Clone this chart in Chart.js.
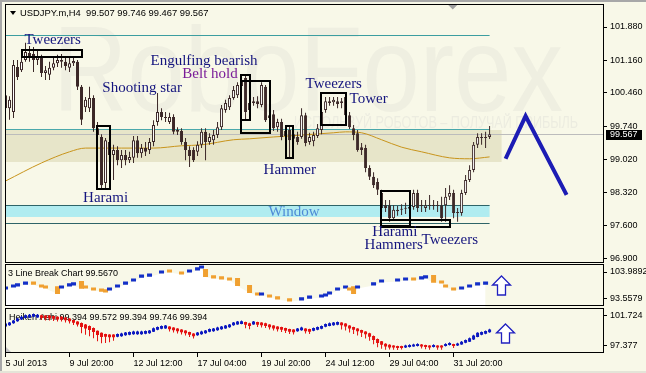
<!DOCTYPE html>
<html lang="en">
<head>
<meta charset="utf-8">
<script src="https://cdn.jsdelivr.net/npm/chart.js@4.4.0/dist/chart.umd.min.js"></script>
<title>USDJPY H4 candlestick patterns</title>
<style>
  html, body { margin: 0; padding: 0; background: #f8f8e8; }
</style>
</head>
<body>
<canvas id="myChart" width="646" height="373"></canvas>
<script>
    const FONT = "'Liberation Sans', Arial, sans-serif";
    const SERIF = "'Liberation Serif', 'Times New Roman', serif";

    // USDJPY.m H4 candles (bar index 0 = 5 Jul 2013)
    const candleOpen = [100.41,100.13,100.05,101.02,100.95,101.17,101.32,101.30,101.17,101.21,
        100.89,100.85,101.00,101.10,101.17,101.13,101.00,101.10,101.13,100.59,
        100.15,100.13,100.35,99.70,99.51,98.52,99.40,99.12,99.23,99.01,
        99.12,99.01,99.06,99.44,99.16,99.27,99.23,99.40,99.83,100.05,
        99.94,99.83,99.94,99.62,99.64,99.40,99.23,99.23,99.19,99.34,
        99.62,99.40,99.44,99.55,99.72,100.09,100.15,100.35,100.41,100.61,
        100.78,100.09,100.24,100.28,100.20,100.59,99.92,100.00,99.72,99.83,
        99.53,99.66,99.47,99.51,99.51,99.98,99.40,99.42,99.53,99.66,
        100.09,100.28,100.26,100.28,100.28,100.37,99.98,99.70,99.59,99.29,
        99.27,98.84,98.65,98.54,98.30,98.04,98.04,97.76,97.94,97.96,
        97.98,97.96,98.00,98.30,98.02,97.98,98.04,98.02,98.04,98.04,
        98.04,98.22,98.30,97.87,97.87,98.30,98.58,98.80,99.34,99.49,
        99.51,99.507];
    const candleHigh = [100.57,100.39,101.17,101.17,101.21,101.54,101.47,101.45,101.38,101.28,
        101.04,101.13,101.21,101.28,101.30,101.23,101.23,101.25,101.17,100.63,
        100.37,100.59,100.41,99.83,99.57,99.49,99.44,99.34,99.31,99.23,
        99.23,99.19,99.53,99.53,99.36,99.40,99.49,99.87,100.46,100.13,
        100.05,100.03,100.00,99.72,99.70,99.49,99.31,99.29,99.42,99.70,
        99.70,99.59,99.66,99.83,100.20,100.31,100.41,100.61,100.69,100.80,
        100.84,100.35,100.37,100.39,100.69,100.63,100.05,100.09,99.90,99.90,
        99.72,99.75,99.66,99.62,100.13,100.03,99.60,99.62,99.79,100.13,
        100.37,100.37,100.37,100.37,100.35,100.41,100.05,99.77,99.66,99.38,
        99.34,98.90,98.75,98.62,98.37,98.15,98.15,98.04,98.02,98.06,
        98.09,98.15,98.37,98.37,98.15,98.15,98.26,98.15,98.13,98.22,
        98.41,98.47,98.37,97.98,98.37,98.69,98.90,99.40,99.59,99.59,
        99.62,99.746];
    const candleLow = [100.05,99.88,99.92,100.74,100.91,101.13,101.13,100.91,101.06,100.80,
        100.74,100.74,100.95,101.02,101.00,100.95,100.91,101.04,100.52,99.77,
        100.05,100.05,99.62,99.44,98.37,98.37,98.80,98.58,98.90,98.84,
        98.90,98.95,98.95,99.06,99.06,99.10,99.14,99.31,99.75,99.87,
        99.83,99.79,99.57,99.55,99.34,99.01,98.86,98.97,99.10,99.27,
        99.01,99.34,99.34,99.49,99.66,100.03,100.09,100.31,100.35,100.52,
        99.87,100.00,100.18,100.13,100.15,99.83,99.83,99.64,99.62,99.44,
        99.40,99.08,99.36,99.34,99.47,99.31,99.34,99.31,99.49,99.57,
        100.03,100.18,100.18,100.13,100.13,99.94,99.68,99.44,99.19,99.12,
        98.75,98.58,98.41,98.26,97.89,97.89,97.68,97.72,97.81,97.83,
        97.85,97.87,97.94,97.89,97.89,97.89,97.94,97.94,97.89,97.68,
        97.68,98.15,97.76,97.68,97.81,98.26,98.54,98.75,99.27,99.34,
        99.27,99.467];
    const candleClose = [100.13,100.31,101.06,100.80,101.13,101.34,101.23,101.17,101.23,100.89,
        100.95,101.00,101.10,101.17,101.13,101.04,101.10,101.15,100.59,99.88,
        100.31,100.35,99.70,99.55,98.47,99.44,99.12,99.23,99.01,99.12,
        99.01,99.08,99.44,99.16,99.27,99.19,99.40,99.77,100.05,99.94,
        99.92,99.94,99.62,99.66,99.40,99.23,99.10,99.01,99.34,99.62,
        99.40,99.51,99.55,99.72,100.13,100.24,100.35,100.52,100.63,100.74,
        100.05,100.24,100.28,100.22,100.63,99.87,99.98,99.70,99.83,99.51,
        99.64,99.44,99.57,99.40,99.98,99.38,99.51,99.55,99.70,100.05,
        100.28,100.24,100.31,100.22,100.24,99.98,99.72,99.55,99.23,99.23,
        98.84,98.65,98.47,98.37,97.98,97.98,97.76,97.94,97.91,97.94,
        97.96,98.00,98.30,97.98,98.04,98.04,98.02,98.04,98.02,97.76,
        98.22,98.30,97.87,97.89,98.30,98.58,98.80,99.34,99.51,99.51,
        99.49,99.567];

    // moving average, read at a few bars
    const maBars = [0, 9, 16, 20, 29, 37, 44, 49, 57, 61, 67, 74, 82, 85, 89, 94, 99, 104, 111, 116, 121];
    const maValues = [98.56, 98.95, 99.19, 99.27, 99.27, 99.27, 99.32, 99.34, 99.45, 99.47,
        99.51, 99.55, 99.60, 99.62, 99.60, 99.45, 99.29, 99.19, 99.06, 99.04, 99.08];

    // forecast zigzag
    const zigBars = [125, 130, 140.25];
    const zigValues = [99.04, 99.96, 98.26];

    // 3 Line Break bricks
    const lbBars = [0,2,3,5,7,9,10,13,14,16,17,19,20,22,24,25,26,28,30,32,34,36,39,41,44,46,48,49,50,52,
        54,56,58,61,63,64,66,68,71,74,76,79,80,81,83,85,86,87,88,92,94,98,100,102,104,105,107,109,110,112,
        114,116,118,120];
    const lbOpen = [97.2,98.0,98.4,99.1,100.3,99.2,98.8,98.5,97.6,98.4,98.8,100.5,98.8,98.0,97.6,97.3,96.8,98.0,99.1,100.3,
        101.8,102.2,103.4,105.0,104.2,103.8,104.6,105.3,105.15,102.7,102.3,101.9,101.67,98.97,96.1,94.9,95.3,94.6,93.8,93.0,
        93.7,94.1,94.5,95.3,96.8,97.6,98.0,98.5,97.6,98.8,99.9,100.3,100.7,101.9,101.1,101.5,102.8,100.7,99.2,98.0,
        97.2,98.0,98.8,99.1];
    const lbClose = [98.4,99.2,99.6,100.3,99.1,98.0,97.6,95.5,98.8,99.6,100.0,97.5,97.6,96.8,96.4,96.1,98.0,99.2,100.3,101.5,
        103.0,103.4,104.6,103.8,103.0,105.0,105.8,106.5,102.06,101.5,101.1,100.7,98.58,95.88,94.9,96.1,94.1,93.4,92.6,94.2,
        94.9,95.3,95.7,96.5,98.0,98.8,96.8,95.5,98.8,100.0,101.1,101.5,101.9,100.7,102.3,102.7,99.8,99.5,98.0,96.8,
        98.4,99.2,100.0,100.3];

    // Heiken Ashi
    const haOpen = [100.22,100.37,100.66,100.95,101.23,101.45,101.52,101.60,101.52,101.85,
        101.78,101.78,101.71,101.63,101.63,101.49,101.35,101.13,100.91,100.72,
        100.51,100.29,100.00,99.57,99.28,99.10,99.03,99.03,98.70,98.78,
        98.92,98.99,99.07,99.07,99.07,99.14,99.21,99.45,99.72,99.86,
        99.93,100.19,100.05,99.90,99.76,99.61,99.39,99.18,98.92,99.07,
        99.21,99.43,99.50,99.65,99.79,99.93,100.08,100.37,100.51,100.58,
        100.84,100.69,100.51,100.84,100.77,100.69,100.48,100.33,100.19,100.12,
        99.97,99.83,99.76,99.50,99.65,99.90,99.83,99.57,99.72,99.86,
        100.15,100.29,100.37,100.44,100.77,100.62,100.33,100.12,99.90,99.68,
        99.47,99.23,98.84,98.40,98.06,97.72,97.57,97.45,97.38,97.38,
        97.15,97.22,97.30,97.37,97.60,97.52,97.45,97.22,97.45,97.45,
        97.37,97.51,97.67,97.44,97.61,97.83,98.00,98.31,98.68,98.99,
        99.14,99.36];
    const haClose = [100.62,100.77,101.06,101.35,101.63,101.85,101.92,102.00,101.92,101.45,
        101.38,101.38,101.31,101.23,101.23,101.09,100.95,100.73,100.51,100.12,
        99.91,99.69,99.40,98.97,98.68,98.70,98.63,98.63,99.10,99.18,
        99.32,99.39,99.47,99.47,99.47,99.54,99.61,99.95,100.12,100.26,
        100.33,99.79,99.65,99.50,99.36,99.21,98.99,98.78,99.32,99.47,
        99.61,99.83,99.90,100.05,100.19,100.33,100.48,100.77,100.91,100.98,
        100.44,100.29,100.91,100.44,100.37,100.29,100.08,99.93,99.79,99.72,
        99.57,99.43,99.36,99.90,100.05,99.50,99.43,99.97,100.12,100.26,
        100.55,100.69,100.77,100.84,100.37,100.22,99.93,99.72,99.50,99.28,
        99.07,98.73,98.24,97.80,97.56,97.32,97.17,97.15,97.08,97.08,
        97.45,97.52,97.60,97.67,97.30,97.22,97.15,97.52,97.15,97.15,
        97.67,97.81,97.37,97.74,98.01,98.23,98.50,98.91,99.28,99.39,
        99.54,99.76];
    const haHigh = [100.72,100.87,101.16,101.45,101.73,101.95,102.02,102.10,102.02,101.90,
        101.83,101.83,101.76,101.68,101.68,101.54,101.40,101.18,100.96,100.77,
        100.56,100.34,100.05,99.62,99.33,99.15,99.08,99.08,99.20,99.28,
        99.42,99.49,99.57,99.57,99.57,99.64,99.71,100.05,100.22,100.36,
        100.43,100.24,100.10,99.95,99.81,99.66,99.44,99.23,99.42,99.57,
        99.71,99.93,100.00,100.15,100.29,100.43,100.58,100.87,101.01,101.08,
        100.89,100.74,101.01,100.89,100.82,100.74,100.53,100.38,100.24,100.17,
        100.02,99.88,99.81,100.00,100.15,99.95,99.88,100.07,100.22,100.36,
        100.65,100.79,100.87,100.94,100.82,100.67,100.38,100.17,99.95,99.73,
        99.52,99.28,98.89,98.45,98.11,97.77,97.62,97.50,97.43,97.43,
        97.55,97.62,97.70,97.77,97.65,97.57,97.50,97.62,97.50,97.50,
        97.77,97.91,97.72,97.84,98.11,98.33,98.60,99.01,99.38,99.49,
        99.64,99.86];
    const haLow = [100.17,100.32,100.61,100.90,101.18,101.40,101.47,101.55,101.47,101.15,
        101.08,101.08,101.01,100.93,100.93,100.79,100.65,100.43,100.21,99.22,
        99.01,98.79,98.50,98.07,97.78,97.80,97.93,98.13,98.65,98.73,
        98.87,98.94,99.02,99.02,99.02,99.09,99.16,99.40,99.67,99.81,
        99.88,99.49,99.35,99.20,99.06,98.91,98.69,98.48,98.87,99.02,
        99.16,99.38,99.45,99.60,99.74,99.88,100.03,100.32,100.46,100.53,
        99.94,99.79,100.46,100.14,100.07,99.99,99.78,99.63,99.49,99.42,
        99.27,99.13,99.06,99.45,99.60,99.20,99.13,99.52,99.67,99.81,
        100.10,100.24,100.32,100.39,99.77,99.62,99.33,99.12,98.90,98.68,
        98.47,98.13,97.64,97.20,96.96,96.82,96.87,96.85,96.78,96.88,
        97.10,97.17,97.25,97.32,97.00,96.92,96.85,97.17,96.85,96.85,
        97.32,97.46,97.07,97.39,97.56,97.78,97.95,98.26,98.63,98.94,
        99.09,99.31];

    // axis ticks
    const tickBars = [0, 16, 32, 48, 64, 80, 96, 112];
    const tickLabels = ['5 Jul 2013', '9 Jul 20:00', '12 Jul 12:00', '17 Jul 04:00',
        '19 Jul 20:00', '24 Jul 12:00', '29 Jul 04:00', '31 Jul 20:00'];
    const priceTicks = [101.88, 101.16, 100.46, 99.74, 99.02, 98.32, 97.60, 96.90];
    const lbTicks = [103.9892, 93.5579];
    const haTicks = [101.724, 97.377];

    // drawn levels and pattern marks (bar index / price)
    const levels = { top: 101.708, zoneLine: 99.682, zoneHi: 99.66, zoneLo: 98.971,
        winHi: 98.044, winLo: 97.785, winLine: 97.656 };
    const boxes = [
        {from: 4, to: 19, hi: 101.38, lo: 101.23},
        {from: 22.9, to: 26.1, hi: 99.75, lo: 98.39},
        {from: 58.9, to: 61.1, hi: 100.85, lo: 99.88},
        {from: 58.9, to: 66.1, hi: 100.72, lo: 99.59},
        {from: 70, to: 71.9, hi: 99.75, lo: 99.05},
        {from: 78.9, to: 85, hi: 100.46, lo: 99.76},
        {from: 93.9, to: 101, hi: 98.35, lo: 97.58},
        {from: 93.9, to: 111, hi: 97.72, lo: 97.56}
    ];
    const NAVY = '#15157e';
    const notes = [
        {text: 'Tweezers', bar: 4.75, price: 101.51, color: NAVY},
        {text: 'Shooting star', bar: 24.2, price: 100.48, color: NAVY},
        {text: 'Engulfing bearish', bar: 36.25, price: 101.06, color: NAVY},
        {text: 'Belt hold', bar: 44.2, price: 100.78, color: '#7a1b98'},
        {text: 'Tweezers', bar: 75, price: 100.57, color: NAVY},
        {text: 'Tower', bar: 86, price: 100.24, color: NAVY},
        {text: 'Harami', bar: 19.4, price: 98.11, color: NAVY},
        {text: 'Hammer', bar: 64.5, price: 98.71, color: NAVY},
        {text: 'Window', bar: 65.75, price: 97.81, color: '#4d8ad6'},
        {text: 'Harami', bar: 91.7, price: 97.38, color: NAVY},
        {text: 'Hammers', bar: 89.75, price: 97.10, color: NAVY},
        {text: 'Tweezers', bar: 104, price: 97.20, color: NAVY}
    ];

    const CANDLE = '#3c2828';
    const BLUE = '#0c18c0', RED = '#e41010', LB_BLUE = '#1430c8', LB_ORANGE = '#f0a030';

    const barIdx = candleOpen.map((_, i) => i);
    const floating = (xs, a, b) => xs.map((x, i) => ({x: x, y: [a[i], b[i]]}));

    function upArrow(ctx, cx, tip, base) {
        const headH = 9, headW = 9, shaftW = 4;
        ctx.beginPath();
        ctx.moveTo(cx, tip);
        ctx.lineTo(cx + headW, tip + headH);
        ctx.lineTo(cx + shaftW, tip + headH);
        ctx.lineTo(cx + shaftW, base);
        ctx.lineTo(cx - shaftW, base);
        ctx.lineTo(cx - shaftW, tip + headH);
        ctx.lineTo(cx - headW, tip + headH);
        ctx.closePath();
        ctx.fillStyle = '#ffffff';
        ctx.fill();
        ctx.strokeStyle = '#2020c0';
        ctx.lineWidth = 1.3;
        ctx.stroke();
    }

    const decor = {
        id: 'decor',
        beforeDraw(chart) {
            const c = chart.ctx;
            c.save();
            c.fillStyle = '#f8f8e8';
            c.fillRect(0, 0, chart.width, chart.height);
            c.fillStyle = '#a8a8a8';
            c.fillRect(0, 0, 2, chart.height);
            c.fillRect(0, 0, chart.width, 2);
            c.fillStyle = '#e4e4d8';
            c.fillRect(0, chart.height - 2, chart.width, 2);
            c.restore();
        },
        beforeDatasetsDraw(chart) {
            const c = chart.ctx, xs = chart.scales.x, ys = chart.scales.y;
            const L = chart.chartArea.left, R = chart.chartArea.right;
            c.save();
            c.beginPath();
            c.rect(L, ys.top, R - L, ys.bottom - ys.top);
            c.clip();
            // watermark
            c.fillStyle = '#efefe1';
            c.font = '121px ' + FONT;
            c.textBaseline = 'alphabetic';
            c.fillText('RoboForex', 53, 111, 510);
            c.fillStyle = '#ecece0';
            c.font = '16px ' + FONT;
            c.fillText('ИСПОЛЬЗУЙ РОБОТОВ – ПОЛУЧАЙ ПРИБЫЛЬ', 294, 128, 284);

            const px = v => xs.getPixelForValue(v), py = v => ys.getPixelForValue(v);
            // zone and window bands
            c.fillStyle = '#e7e5c9';
            c.fillRect(L, py(levels.zoneHi), px(124) - L, py(levels.zoneLo) - py(levels.zoneHi));
            c.fillStyle = '#b0ecf0';
            c.fillRect(L, py(levels.winHi), px(121) - L, py(levels.winLo) - py(levels.winHi));
            const hline = (v, to, color) => {
                const y = Math.round(py(v)) + 0.5;
                c.beginPath(); c.moveTo(L, y); c.lineTo(px(to), y);
                c.strokeStyle = color; c.lineWidth = 1; c.stroke();
            };
            hline(levels.top, 121, '#3c9ea0');
            hline(levels.zoneLine, 121, '#4aa8ab');
            hline(levels.winHi, 121, '#2e6468');
            hline(levels.winLine, 121, '#2e6468');
            hline(candleClose[candleClose.length - 1], 150, '#bcbcbc');
            c.restore();

            // panel captions
            c.save();
            c.fillStyle = '#000';
            c.textBaseline = 'middle';
            c.font = '9px ' + FONT;
            c.fillText('3 Line Break Chart 99.5670', 8, chart.scales.y1.top + 10.5);
            c.fillText('Heiken Ashi 99.394 99.572 99.394 99.746 99.394', 9, chart.scales.y2.top + 10.5);
            c.restore();
        },
        afterDatasetsDraw(chart) {
            const c = chart.ctx, xs = chart.scales.x, ys = chart.scales.y;
            const px = v => xs.getPixelForValue(v), py = v => ys.getPixelForValue(v);
            const L = chart.chartArea.left, R = chart.chartArea.right;
            c.save();
            // pattern boxes
            c.strokeStyle = '#000';
            c.lineWidth = 2;
            boxes.forEach(b => {
                const x1 = Math.round(px(b.from)), x2 = Math.round(px(b.to));
                const y1 = Math.round(py(b.hi)), y2 = Math.round(py(b.lo));
                c.strokeRect(x1, y1, x2 - x1, y2 - y1);
            });
            // pattern names
            c.font = '15px ' + SERIF;
            c.textBaseline = 'alphabetic';
            notes.forEach(n => {
                c.fillStyle = n.color;
                c.fillText(n.text, px(n.bar), py(n.price));
            });
            // sub-panel arrows
            const y1s = chart.scales.y1, y2s = chart.scales.y2;
            upArrow(c, Math.round(px(123.9)) + 0.5, y1s.getPixelForValue(102.44), y1s.getPixelForValue(95.10));
            upArrow(c, Math.round(px(124.9)) + 0.5, y2s.getPixelForValue(100.57), y2s.getPixelForValue(97.81));

            // panel frames
            c.strokeStyle = '#000';
            c.lineWidth = 1;
            const l = Math.floor(L) + 0.5, r = Math.round(R) - 0.5;
            c.strokeRect(l, ys.top + 0.5, r - l, ys.bottom - ys.top - 1);
            c.strokeRect(l, y1s.top + 1.5, r - l, y1s.bottom - y1s.top - 3);
            c.strokeRect(l, y2s.top + 1.5, r - l, y2s.bottom - y2s.top - 2);

            // small markers
            c.fillStyle = '#000';
            c.beginPath(); c.moveTo(10, 11); c.lineTo(16, 11); c.lineTo(13, 15); c.closePath(); c.fill();
            c.fillStyle = '#a0a0a0';
            const mx = px(111.8);
            c.beginPath(); c.moveTo(mx - 4.5, ys.top + 1); c.lineTo(mx + 4.5, ys.top + 1); c.lineTo(mx, ys.top + 5.5); c.closePath(); c.fill();
            c.fillStyle = '#c4c4c4';
            c.beginPath(); c.moveTo(l + 0.5, y2s.bottom - 1); c.lineTo(l + 0.5, y2s.bottom - 6); c.lineTo(l + 5.5, y2s.bottom - 1); c.closePath(); c.fill();

            // title
            c.fillStyle = '#000';
            c.font = '9.4px ' + FONT;
            c.textBaseline = 'middle';
            c.fillText('USDJPY.m,H4  99.507 99.746 99.467 99.567', 20, 13);

            // last price tag
            const last = candleClose[candleClose.length - 1];
            const yl = Math.round(py(last));
            c.fillStyle = '#000';
            c.fillRect(R + 2, yl - 4, 36, 10);
            c.fillStyle = '#fff';
            c.font = '9px ' + FONT;
            c.fillText(last.toFixed(3), R + 6, yl + 1);
            c.restore();
        }
    };

    const zeroPad = s => { s.paddingTop = 0; s.paddingBottom = 0; s.paddingLeft = 0; s.paddingRight = 0; };
    const yAxis = (weight, min, max, ticks, digits) => ({
        type: 'linear', position: 'right', stack: 'panels', stackWeight: weight,
        min: min, max: max,
        afterBuildTicks: s => { s.ticks = ticks.map(v => ({value: v})); },
        afterFit: s => { s.width = 42; zeroPad(s); },
        ticks: { callback: v => v.toFixed(digits), color: '#000', padding: 3, autoSkip: false,
            font: {family: FONT, size: 9} },
        grid: { drawOnChartArea: false, tickLength: 3, color: '#000' },
        border: { display: false }
    });

    const wickColors = candleOpen.map(() => CANDLE);
    const bodyColors = candleOpen.map((o, i) => candleClose[i] >= o ? '#ffffff' : CANDLE);
    const haColors = haOpen.map((o, i) => haClose[i] >= o ? BLUE : RED);
    const lbColors = lbOpen.map((o, i) => lbClose[i] >= o ? LB_BLUE : LB_ORANGE);

    const chart = new Chart('myChart', {
        data: {
            datasets: [
                {   // white area under the line break
                    type: 'line', yAxisID: 'y1', order: 20,
                    data: lbBars.map((x, i) => ({x: x, y: Math.min(lbOpen[i], lbClose[i])})),
                    fill: 'start', backgroundColor: '#ffffff', borderWidth: 0, pointRadius: 0
                },
                {
                    type: 'line', yAxisID: 'y', order: 15,
                    data: maBars.map((x, i) => ({x: x, y: maValues[i]})),
                    borderColor: '#c8941c', borderWidth: 1, pointRadius: 0,
                    cubicInterpolationMode: 'monotone'
                },
                {
                    type: 'bar', yAxisID: 'y', order: 10, grouped: false,
                    data: floating(barIdx, candleLow, candleHigh),
                    backgroundColor: wickColors, barThickness: 1, inflateAmount: 0
                },
                {
                    type: 'bar', yAxisID: 'y', order: 9, grouped: false,
                    data: floating(barIdx, candleOpen, candleClose),
                    backgroundColor: bodyColors, borderColor: CANDLE, borderWidth: 1,
                    borderSkipped: false, barThickness: 3, minBarLength: 1, inflateAmount: 0
                },
                {
                    type: 'bar', yAxisID: 'y1', order: 8, grouped: false,
                    data: floating(lbBars, lbOpen, lbClose),
                    backgroundColor: lbColors, barThickness: 5, inflateAmount: 0
                },
                {
                    type: 'bar', yAxisID: 'y2', order: 7, grouped: false,
                    data: floating(barIdx, haLow, haHigh),
                    backgroundColor: haColors, barThickness: 1, inflateAmount: 0
                },
                {
                    type: 'bar', yAxisID: 'y2', order: 6, grouped: false,
                    data: floating(barIdx, haOpen, haClose),
                    backgroundColor: haColors, barThickness: 3, minBarLength: 1, inflateAmount: 0
                },
                {
                    type: 'line', yAxisID: 'y', order: 1,
                    data: zigBars.map((x, i) => ({x: x, y: zigValues[i]})),
                    borderColor: '#1c1cb4', borderWidth: 4, pointRadius: 0,
                    borderJoinStyle: 'miter', borderCapStyle: 'butt'
                }
            ]
        },
        options: {
            responsive: false,
            animation: false,
            devicePixelRatio: 1,
            layout: { padding: { left: 5.5, top: 4, right: 0, bottom: 0 } },
            plugins: { legend: { display: false }, tooltip: { enabled: false } },
            scales: {
                x: {
                    type: 'linear', position: 'bottom', min: 0, max: 149.6,
                    offset: false, bounds: 'data',
                    afterBuildTicks: s => { s.ticks = tickBars.map(v => ({value: v})); },
                    afterFit: s => { s.height = 20; zeroPad(s); },
                    ticks: { callback: v => tickLabels[tickBars.indexOf(v)], align: 'start',
                        maxRotation: 0, autoSkip: false, color: '#000', padding: 1,
                        font: {family: FONT, size: 9} },
                    grid: { offset: false, drawOnChartArea: false, tickLength: 4, color: '#000' },
                    border: { display: false }
                },
                y: yAxis(259, 96.793, 102.376, priceTicks, 3),
                y1: yAxis(44, 90.465, 107.467, lbTicks, 4),
                y2: yAxis(46, 96.362, 103.028, haTicks, 3)
            }
        },
        plugins: [decor]
    });
</script>
</body>
</html>
